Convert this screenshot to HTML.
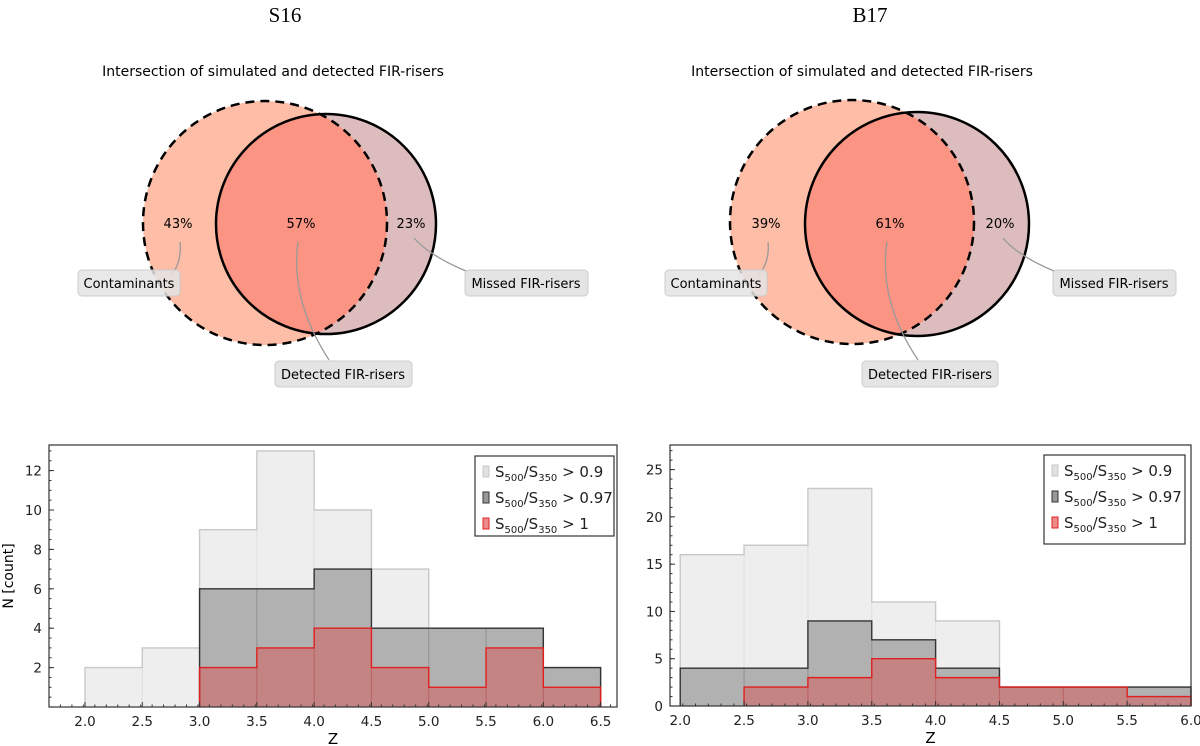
<!DOCTYPE html>
<html><head><meta charset="utf-8"><style>
body{margin:0;background:#fff;}
svg{display:block;font-family:"DejaVu Sans","Liberation Sans",sans-serif;}
</style></head><body>
<svg id="fig" width="1200" height="746" viewBox="0 0 1200 746" xmlns="http://www.w3.org/2000/svg">
<g>
<text x="285" y="22" font-family="Liberation Serif,serif" font-size="21" text-anchor="middle">S16</text>
<text x="273" y="76" font-size="14" text-anchor="middle">Intersection of simulated and detected FIR-risers</text>
<defs>
<clipPath id="cA"><circle cx="265" cy="223" r="122"/></clipPath>
<clipPath id="cB"><circle cx="852" cy="222" r="122"/></clipPath>
</defs>
<circle cx="265" cy="223" r="122" fill="#fdbda6"/>
<circle cx="326" cy="224" r="110" fill="#dcbcbd"/>
<circle cx="326" cy="224" r="110" fill="#fc9483" clip-path="url(#cA)"/>
<circle cx="265" cy="223" r="122" fill="none" stroke="#000" stroke-width="2.5" stroke-dasharray="9,6"/>
<circle cx="326" cy="224" r="110" fill="none" stroke="#000" stroke-width="2.5"/>
<text x="178" y="228" font-size="13" text-anchor="middle">43%</text>
<text x="301" y="228" font-size="13" text-anchor="middle">57%</text>
<text x="411" y="228" font-size="13" text-anchor="middle">23%</text>
<path d="M171,276 Q182,262 180,242" stroke="#999" fill="none" stroke-width="1.3"/>
<path d="M329,360 Q290,300 298,242" stroke="#999" fill="none" stroke-width="1.3"/>
<path d="M466,271 Q430,256 414,238" stroke="#999" fill="none" stroke-width="1.3"/>
<rect x="78" y="270" width="102" height="26" rx="4" fill="#e4e4e4" fill-opacity="0.85" stroke="#ccc"/>
<text x="129" y="288" font-size="13" text-anchor="middle">Contaminants</text>
<rect x="275" y="361" width="137" height="26" rx="4" fill="#e4e4e4" stroke="#ccc"/>
<text x="343" y="379" font-size="13" text-anchor="middle">Detected FIR-risers</text>
<rect x="465" y="270" width="123" height="26" rx="4" fill="#e4e4e4" stroke="#ccc"/>
<text x="526" y="288" font-size="13" text-anchor="middle">Missed FIR-risers</text>
</g>
<g>
<text x="870" y="22" font-family="Liberation Serif,serif" font-size="21" text-anchor="middle">B17</text>
<text x="862" y="76" font-size="14" text-anchor="middle">Intersection of simulated and detected FIR-risers</text>
<circle cx="852" cy="222" r="122" fill="#fdbda6"/>
<circle cx="917" cy="224" r="112" fill="#dcbcbd"/>
<circle cx="917" cy="224" r="112" fill="#fc9483" clip-path="url(#cB)"/>
<circle cx="852" cy="222" r="122" fill="none" stroke="#000" stroke-width="2.5" stroke-dasharray="9,6"/>
<circle cx="917" cy="224" r="112" fill="none" stroke="#000" stroke-width="2.5"/>
<text x="766" y="228" font-size="13" text-anchor="middle">39%</text>
<text x="890" y="228" font-size="13" text-anchor="middle">61%</text>
<text x="1000" y="228" font-size="13" text-anchor="middle">20%</text>
<path d="M758,276 Q770,262 768,242" stroke="#999" fill="none" stroke-width="1.3"/>
<path d="M918,360 Q878,300 887,242" stroke="#999" fill="none" stroke-width="1.3"/>
<path d="M1054,271 Q1018,256 1003,238" stroke="#999" fill="none" stroke-width="1.3"/>
<rect x="665" y="270" width="102" height="26" rx="4" fill="#e4e4e4" fill-opacity="0.85" stroke="#ccc"/>
<text x="716" y="288" font-size="13" text-anchor="middle">Contaminants</text>
<rect x="862" y="361" width="136" height="26" rx="4" fill="#e4e4e4" stroke="#ccc"/>
<text x="930" y="379" font-size="13" text-anchor="middle">Detected FIR-risers</text>
<rect x="1053" y="270" width="123" height="26" rx="4" fill="#e4e4e4" stroke="#ccc"/>
<text x="1114" y="288" font-size="13" text-anchor="middle">Missed FIR-risers</text>
</g>
<g id="hL"></g>
<g id="hR"></g>
</svg>
<script>
const binsS16 = [2.0,2.5,3.0,3.5,4.0,4.5,5.0,5.5,6.0,6.5];
const s16_09 = [2,3,9,13,10,7,4,4,2];
const s16_097 = [0,0,6,6,7,4,4,4,2];
const s16_1 = [0,0,2,3,4,2,1,3,1];
const ticksS16X = [2.0,2.5,3.0,3.5,4.0,4.5,5.0,5.5,6.0,6.5];
const ticksS16Y = [2,4,6,8,10,12];
const binsB17 = [2.0,2.5,3.0,3.5,4.0,4.5,5.0,5.5,6.0];
const b17_09 = [16,17,23,11,9,2,2,2];
const b17_097 = [4,4,9,7,4,2,2,2];
const b17_1 = [0,2,3,5,3,2,2,1];
const ticksB17X = [2.0,2.5,3.0,3.5,4.0,4.5,5.0,5.5,6.0];
const ticksB17Y = [0,5,10,15,20,25];
const NS='http://www.w3.org/2000/svg';
function mk(p,tag,attrs){const e=document.createElementNS(NS,tag);for(const k in attrs)e.setAttribute(k,attrs[k]);p.appendChild(e);return e;}
function hist(g,cfg){
  const {x0,x1,y0,y1,xmin,xmax,ymin,ymax,bins,series,tx,ty,minor,ylabel,leg}=cfg;
  const X=v=>x0+(v-xmin)/(xmax-xmin)*(x1-x0);
  const Y=v=>y1-(v-ymin)/(ymax-ymin)*(y1-y0);
  const styles=[{f:'#bdbdbd',fo:0.25,s:'#c8c8c8'},{f:'#555',fo:0.4,s:'#333'},{f:'#e04040',fo:0.4,s:'#e02020'}];
  series.forEach((vals,si)=>{
    const st=styles[si];
    const bg=mk(g,'g',{});
    
    
    vals.forEach((v,i)=>{
      if(v<=0)return;
      const r=mk(bg,'rect',{x:X(bins[i]),y:Y(v),width:X(bins[i+1])-X(bins[i]),height:Y(0)-Y(v),fill:st.f,'fill-opacity':st.fo,stroke:st.f,'stroke-opacity':0.15});
      
      
    });
    let d='';let started=false;
    vals.forEach((v,i)=>{
      if(!started&&v<=0)return;
      if(!started){d+='M'+X(bins[i])+','+Y(0);started=true;}
      d+=' L'+X(bins[i])+','+Y(v)+' L'+X(bins[i+1])+','+Y(v);
    });
    let last=vals.length-1;while(last>=0&&vals[last]<=0)last--;
    d+=' L'+X(bins[last+1])+','+Y(0);
    mk(bg,'path',{d:d,fill:'none',stroke:st.s,'stroke-width':1.4});
  });
  const fr=mk(g,'rect',{x:x0,y:y0,width:x1-x0,height:y1-y0,fill:'none',stroke:'#333','stroke-width':1.2});
  
  
  tx.forEach(t=>{mk(g,'line',{x1:X(t),x2:X(t),y1:y1,y2:y1-5,stroke:'#333'});
    const e=mk(g,'text',{x:X(t),y:y1+19,'font-size':13.5,'text-anchor':'middle',fill:'#222'});e.textContent=t.toFixed(1);
    });
  for(let v=xmin;v<=xmax;v+=0.1){const xx=X(v);if(xx>x0&&xx<x1)mk(g,'line',{x1:xx,x2:xx,y1:y1,y2:y1-2.5,stroke:'#333'});}
  ty.forEach(t=>{mk(g,'line',{x1:x0,x2:x0+5,y1:Y(t),y2:Y(t),stroke:'#333'});
    const e=mk(g,'text',{x:x0-7,y:Y(t)+5,'font-size':13.5,'text-anchor':'end',fill:'#222'});e.textContent=t;
    });
  for(let v=0;v<=ymax;v+=minor){const yy=Y(v);if(yy>y0&&yy<y1)mk(g,'line',{x1:x0,x2:x0+2.5,y1:yy,y2:yy,stroke:'#333'});}
  const xl=mk(g,'text',{x:(x0+x1)/2,y:y1+37,'font-size':15,'text-anchor':'middle'});xl.textContent='Z';
  
  if(ylabel){const yl=mk(g,'text',{x:0,y:0,'font-size':14,'text-anchor':'middle',transform:'translate(13,'+((y0+y1)/2)+') rotate(-90)'});yl.textContent=ylabel;
    }
  const lg=mk(g,'g',{});
  
  
  mk(lg,'rect',{x:leg.x,y:leg.y,width:leg.w,height:leg.h,fill:'#fff',stroke:'#333','stroke-width':1.2});
  const labs=[['0.9'],['0.97'],['1']];
  labs.forEach((l,i)=>{const st=styles[i];const yy=leg.y+16+i*26;
    const ent=mk(lg,'g',{});
    
    
    mk(ent,'rect',{x:leg.x+8,y:yy-6,width:6,height:11,fill:st.f,'fill-opacity':st.fo+0.2,stroke:st.s});
    const t=mk(ent,'text',{x:leg.x+20,y:yy+5,'font-size':15,fill:'#222'});
    t.innerHTML='S<tspan font-size="10" dy="4">500</tspan><tspan dy="-4">/S</tspan><tspan font-size="10" dy="4">350</tspan><tspan dy="-4"> &gt; '+l[0]+'</tspan>';
  });
}
hist(document.getElementById('hL'),{x0:49,x1:617,y0:445,y1:707,xmin:1.686,xmax:6.643,ymin:0,ymax:13.3,bins:binsS16,series:[s16_09,s16_097,s16_1],names:['ratio-0.9','ratio-0.97','ratio-1'],tx:ticksS16X,ty:ticksS16Y,minor:0.5,ylabel:'N [count]',leg:{x:475,y:456,w:139,h:80}});
hist(document.getElementById('hR'),{x0:670,x1:1191,y0:445,y1:706,xmin:1.92,xmax:6.0,ymin:0,ymax:27.6,bins:binsB17,series:[b17_09,b17_097,b17_1],names:['ratio-0.9','ratio-0.97','ratio-1'],tx:ticksB17X,ty:ticksB17Y,minor:1,ylabel:null,leg:{x:1044,y:455,w:141,h:89}});
</script>
</body></html>
